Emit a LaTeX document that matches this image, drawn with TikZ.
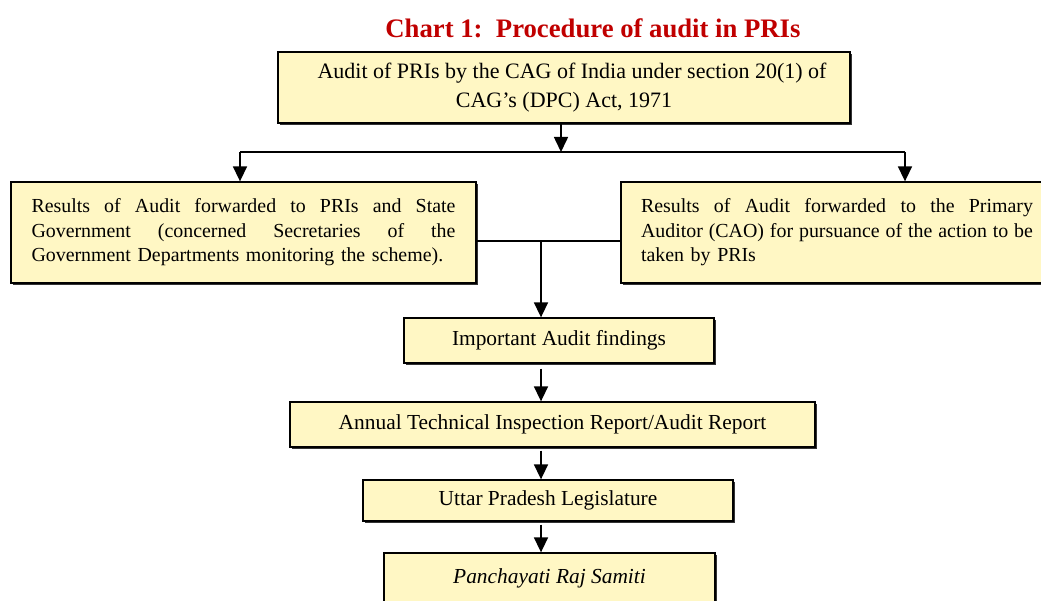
\documentclass[tikz,border=0pt]{standalone}
\usepackage{fontspec}
\setmainfont{Liberation Serif}
\usetikzlibrary{arrows.meta,shadows}
\definecolor{boxfill}{HTML}{FFF7C4}
\definecolor{titlered}{HTML}{C00000}
\tikzset{
  box/.style={draw=black, line width=1.3pt, fill=boxfill, inner xsep=0pt, inner ysep=0pt,
    drop shadow={shadow xshift=1.6pt, shadow yshift=-1.6pt, fill=black!80, opacity=1},
    font=\fontsize{21.4}{24.5}\selectfont, align=center},
  widebox/.style={box, minimum height=101pt, align=left, font=\fontsize{19.9}{24.5}\selectfont},
  flow/.style={line width=1.6pt, -{Triangle[width=14pt,length=15pt]}},
  link/.style={line width=1.6pt}
}
\newcommand{\fillline}[2]{\leavevmode\hbox to #1{\spaceskip=0.25em plus 1fil\xspaceskip=0.25em plus 1fil\relax #2}}
\begin{document}
\begin{tikzpicture}[x=1pt,y=-1pt]
    \useasboundingbox (0,0) rectangle (1041,601);
    \node [font=\fontsize{26.7}{30}\selectfont\bfseries, text=titlered] (title) at (593,28) {Chart 1:\ \ Procedure of audit in PRIs};
    \node [box, minimum width=572pt, minimum height=71pt, font=\fontsize{22}{24.5}\selectfont] (audit) at (564,87.5)
      {\hspace*{16pt}Audit of PRIs by the CAG of India under section 20(1) of\\[4pt]CAG's (DPC) Act, 1971};
    \node [widebox, minimum width=465pt, text width=424pt] (state) at (243.5,232.5)
      {\fillline{424pt}{Results of Audit forwarded to PRIs and State}\\
       \fillline{424pt}{Government (concerned Secretaries of the}\\
       Government Departments monitoring the scheme).};
    \node [widebox, minimum width=432pt, text width=392pt] (cao) at (837,232.5)
      {\fillline{392pt}{Results of Audit forwarded to the Primary}\\
       \fillline{392pt}{Auditor (CAO) for pursuance of the action to be}\\
       taken by PRIs};
    \node [box, minimum width=310pt, minimum height=45pt] (findings) at (559,340.5) {Important Audit findings};
    \node [box, minimum width=525pt, minimum height=45pt] (report) at (552.5,424.5) {Annual Technical Inspection Report/Audit Report};
    \node [box, minimum width=370pt, minimum height=41pt] (legis) at (548,500.5) {Uttar Pradesh Legislature};
    \node [box, minimum width=331pt, minimum height=50pt] (samiti) at (549.5,578) {\itshape Panchayati Raj Samiti};
    % split below the top box
    \coordinate (split) at (561,152);
    \coordinate (splitl) at (240,152);
    \coordinate (splitr) at (905,152);
    \draw [flow] (audit.south -| split) -- (split);
    \draw [link] (splitl) -- (splitr);
    \draw [flow] (splitl) -- (splitl |- state.north);
    \draw [flow] (splitr) -- (splitr |- cao.north);
    % join of the two result boxes
    \coordinate (join) at (541,241);
    \draw [link] (state.east |- join) -- (cao.west |- join);
    \draw [flow] (join) -- (join |- findings.north);
    \draw [flow, shorten <=5pt] (findings.south -| join) -- (report.north -| join);
    \draw [flow, shorten <=3pt] (report.south -| join) -- (legis.north -| join);
    \draw [flow, shorten <=3pt] (legis.south -| join) -- (samiti.north -| join);
\end{tikzpicture}
\end{document}
